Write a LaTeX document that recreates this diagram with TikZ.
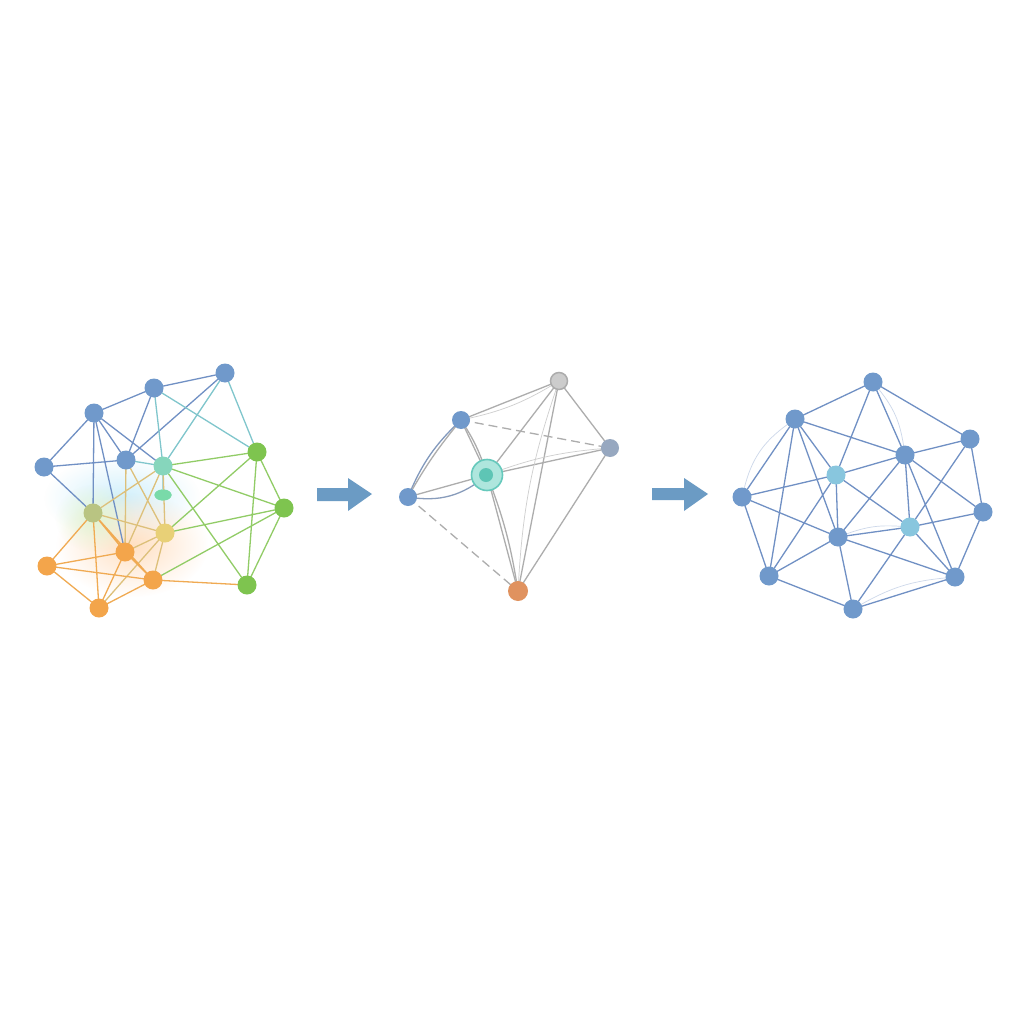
\documentclass[tikz,border=0pt]{standalone}
\usepackage{tikz}
\usetikzlibrary{fadings,shapes.geometric}

\definecolor{nblue}{HTML}{7099CB}
\definecolor{nteal}{HTML}{86D6BC}
\definecolor{ngreen}{HTML}{7EC44F}
\definecolor{nyellow}{HTML}{E8D077}
\definecolor{nolive}{HTML}{B9C482}
\definecolor{norange}{HTML}{F3A54B}
\definecolor{eblue}{HTML}{7090C4}
\definecolor{eteal}{HTML}{80C6CC}
\definecolor{egreen}{HTML}{91CC66}
\definecolor{eyellow}{HTML}{DDC07A}
\definecolor{eorange}{HTML}{F0AA52}
\definecolor{egrey}{HTML}{ADADAD}
\definecolor{lblue}{HTML}{88C6DE}
\definecolor{arrowblue}{HTML}{6B9BC4}
\definecolor{mint}{HTML}{AEE6DD}
\definecolor{mintring}{HTML}{66C9BC}
\definecolor{mintcore}{HTML}{5EC5B5}
\definecolor{clay}{HTML}{E0925F}
\definecolor{slate}{HTML}{97A8C0}

\tikzfading[name=glow, inner color=transparent!0, outer color=transparent!100]

\begin{document}
\begin{tikzpicture}[x=1pt, y=-1pt,
  dot/.style={circle, inner sep=0pt, minimum size=18pt},
  link/.style={line width=1.3pt},
  faint/.style={line width=0.7pt, egrey!60}]
\useasboundingbox (0,0) rectangle (1024,1024);
\fill[white] (0,0) rectangle (1024,1024);

% glow behind the first graph
\fill[cyan!18, path fading=glow] (122,498) ellipse (78pt and 42pt);
\fill[orange!24, path fading=glow] (132,545) ellipse (76pt and 52pt);
\fill[yellow!40!green!18, path fading=glow] (95,518) ellipse (40pt and 34pt);

% first graph
\node[dot, fill=nblue] (a1) at (225,373) {};
\node[dot, fill=nblue] (a2) at (154,388) {};
\node[dot, fill=nblue] (a3) at (94,413) {};
\node[dot, fill=nblue] (a4) at (44,467) {};
\node[dot, fill=nblue] (a5) at (126,460) {};
\node[dot, fill=nteal] (t1) at (163,466) {};
\node[ellipse, inner sep=0pt, minimum width=17pt, minimum height=11pt, fill=nteal!90!green] (t2) at (163,495) {};
\node[dot, fill=ngreen] (g1) at (257,452) {};
\node[dot, fill=ngreen] (g2) at (284,508) {};
\node[dot, fill=ngreen] (g3) at (247,585) {};
\node[dot, fill=nolive] (y1) at (93,513) {};
\node[dot, fill=nyellow] (y2) at (165,533) {};
\node[dot, fill=norange] (o1) at (125,552) {};
\node[dot, fill=norange] (o2) at (47,566) {};
\node[dot, fill=norange] (o3) at (153,580) {};
\node[dot, fill=norange] (o4) at (99,608) {};

\draw[link, eblue] (a1) -- (a2) (a2) -- (a3) (a3) -- (a4) (a3) -- (a5)
  (a2) -- (a5) (a4) -- (a5) (a1) -- (a5) (a3) -- (y1) (a4) -- (y1)
  (a3) -- (t1) (a3) -- (o1);
\draw[link, eteal] (a1) -- (t1) (a2) -- (t1) (a5) -- (t1) (t1) -- (t2)
  (a1) -- (g1) (a2) -- (g1);
\draw[link, egreen] (t1) -- (g1) (t1) -- (g2) (g1) -- (g2) (g1) -- (g3)
  (g2) -- (g3) (g1) -- (y2) (g2) -- (y2) (g2) -- (o3) (t1) -- (g3);
\draw[link, eyellow] (t1) -- (y1) (t1) -- (y2) (t1) -- (o1) (a5) -- (y2)
  (a5) -- (o1) (y1) -- (y2) (y2) -- (o1) (y2) -- (o3) (y2) -- (o4);
\draw[link, eorange] (y1) -- (o1) (y1) -- (o2) (y1) -- (o4) (y1) -- (o3)
  (o1) -- (o2) (o1) -- (o3) (o1) -- (o4) (o2) -- (o3) (o2) -- (o4)
  (o3) -- (o4) (o3) -- (g3);

% first arrow
\fill[arrowblue] (317,488) -- (348,488) -- (348,478) -- (372,494)
  -- (348,511) -- (348,501) -- (317,501) -- cycle;

% second graph
\coordinate (b1) at (559,381);
\coordinate (b2) at (461,420);
\coordinate (b3) at (610,448);
\coordinate (b4) at (408,497);
\coordinate (bc) at (487,475);
\coordinate (b5) at (518,591);

\draw[link, egrey] (b1) -- (b2) (b1) -- (b3) (b1) -- (bc) (b1) -- (b5)
  (b3) -- (b5) (bc) -- (b3) (b4) -- (bc) (bc) -- (b5) (b2) -- (bc);
\draw[link, egrey, dash pattern=on 9pt off 5pt] (b2) -- (b3) (b4) -- (b5);
\draw[link, eblue!70!egrey] (b2) to[bend right=12] (b4);
\draw[link, egrey] (b2) to[bend right=5] (b4);
\draw[link, egrey] (b2) to[bend left=8] (bc);
\draw[link, eblue!60!egrey] (b4) to[bend right=25] (bc);
\draw[link, egrey] (bc) to[bend left=6] (b5);
\draw[faint] (b1) to[bend left=10] (b2);
\draw[faint] (b3) to[bend right=8] (bc);
\draw[faint] (b5) to[bend left=8] (b1);

\node[dot, fill=nblue] (b2n) at (b2) {};
\node[dot, fill=nblue] (b4n) at (b4) {};
\node[dot, fill=gray!40, draw=gray!65, line width=1.5pt, minimum size=17pt] (b1n) at (b1) {};
\node[dot, fill=slate] (b3n) at (b3) {};
\node[dot, fill=clay, minimum size=20pt] (b5n) at (b5) {};
\node[circle, inner sep=0pt, minimum size=31pt, fill=mint, draw=mintring, line width=1.6pt] (bcn) at (bc) {};
\fill[mintcore] ([xshift=-1pt]bc) circle (7pt);

% second arrow
\fill[arrowblue] (652,488) -- (684,488) -- (684,478) -- (708,494)
  -- (684,511) -- (684,500) -- (652,500) -- cycle;

% third graph
\node[dot, fill=nblue] (c1) at (873,382) {};
\node[dot, fill=nblue] (c2) at (795,419) {};
\node[dot, fill=nblue] (c3) at (970,439) {};
\node[dot, fill=nblue] (c4) at (905,455) {};
\node[dot, fill=lblue] (l1) at (836,475) {};
\node[dot, fill=nblue] (c5) at (742,497) {};
\node[dot, fill=nblue] (c6) at (983,512) {};
\node[dot, fill=lblue] (l2) at (910,527) {};
\node[dot, fill=nblue] (c7) at (838,537) {};
\node[dot, fill=nblue] (c8) at (769,576) {};
\node[dot, fill=nblue] (c9) at (955,577) {};
\node[dot, fill=nblue] (c10) at (853,609) {};

\draw[link, eblue] (c1) -- (c2) (c1) -- (c3) (c1) -- (c4) (c1) -- (l1)
  (c2) -- (c5) (c2) -- (c8) (c2) -- (c4) (c2) -- (l1) (c2) -- (c7)
  (c3) -- (c4) (c3) -- (c6) (c3) -- (l2) (c4) -- (l1) (c4) -- (c7)
  (c4) -- (l2) (c4) -- (c6) (c4) -- (c9) (l1) -- (c5) (l1) -- (c7)
  (l1) -- (l2) (l1) -- (c8) (c5) -- (c7) (c5) -- (c8) (c6) -- (l2)
  (c6) -- (c9) (c7) -- (l2) (l2) -- (c10) (l2) -- (c9) (c7) -- (c8)
  (c7) -- (c10) (c7) -- (c9) (c8) -- (c10) (c9) -- (c10);
\draw[line width=0.7pt, eblue!35] (c1) to[bend left=15] (c4)
  (c2) to[bend right=20] (c5) (c7) to[bend left=12] (l2) (c10) to[bend left=12] (c9);

% nodes again, on top of the edges
\foreach \n/\c in {c1/nblue,c2/nblue,c3/nblue,c4/nblue,l1/lblue,c5/nblue,c6/nblue,l2/lblue,c7/nblue,c8/nblue,c9/nblue,c10/nblue}
  \fill[\c] (\n) circle (9.5pt);
\foreach \n/\c in {a1/nblue,a2/nblue,a3/nblue,a4/nblue,a5/nblue,t1/nteal,g1/ngreen,g2/ngreen,g3/ngreen,y1/nolive,y2/nyellow,o1/norange,o2/norange,o3/norange,o4/norange}
  \fill[\c] (\n) circle (9.5pt);
\fill[nteal!90!green] (t2) ellipse (8.5pt and 5.5pt);
\end{tikzpicture}
\end{document}
